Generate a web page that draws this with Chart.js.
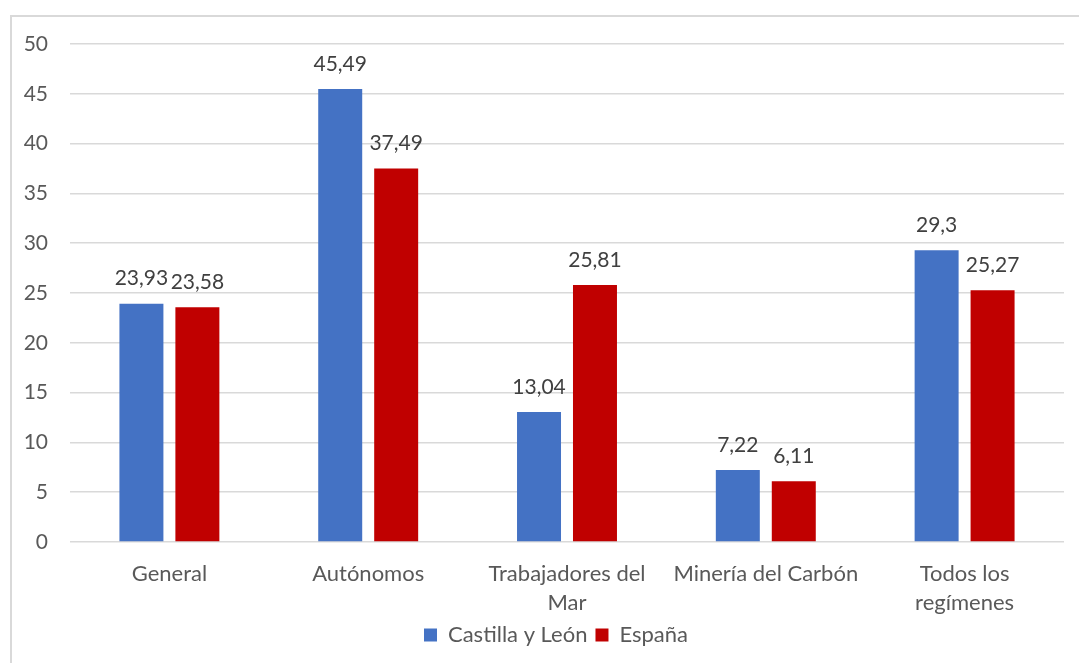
<!DOCTYPE html>
<html>
<head>
<meta charset="utf-8">
<script src="https://cdn.jsdelivr.net/npm/chart.js@4.4.0/dist/chart.umd.min.js"></script>
<style>
html,body{margin:0;padding:0;background:#fff;}
#frame{position:absolute;left:10px;top:15px;width:1100px;height:700px;border-left:2px solid #d9d9d9;border-top:2px solid #d9d9d9;box-sizing:border-box;}
#wrap{position:absolute;left:0;top:0;width:1079px;height:663px;}
</style>
</head>
<body>
<div id="frame"></div>
<div id="wrap"><canvas id="c"></canvas></div>
<script>
const categories = ["General", "Autónomos", ["Trabajadores del", "Mar"], "Minería del Carbón", ["Todos los", "regímenes"]];
const seriesNames = ["Castilla y León", "España"];
const castillaLeon = [23.93, 45.49, 13.04, 7.22, 29.3];
const espana = [23.58, 37.49, 25.81, 6.11, 25.27];
const yTicks = [0, 5, 10, 15, 20, 25, 30, 35, 40, 45, 50];

const FONT = "Lato, 'Open Sans', sans-serif";

const labelPlugin = {
  id: 'valueLabels',
  afterDatasetsDraw(chart) {
    const ctx = chart.ctx;
    ctx.save();
    ctx.font = "21px " + FONT;
    ctx.fillStyle = '#404040';
    ctx.textAlign = 'center';
    ctx.textBaseline = 'middle';
    chart.data.datasets.forEach((ds, i) => {
      const meta = chart.getDatasetMeta(i);
      meta.data.forEach((bar, j) => {
        const txt = String(ds.data[j]).replace('.', ',');
        ctx.fillText(txt, bar.x, bar.y - 25);
      });
    });
    ctx.restore();
  }
};

const legendShift = {
  id: 'legendShift',
  afterLayout(chart) {
    if (chart.legend) { chart.legend.left += 18; chart.legend.right += 18; }
  }
};

new Chart(document.getElementById('c'), {
  type: 'bar',
  data: {
    labels: categories,
    datasets: [
      { label: seriesNames[0], data: castillaLeon, backgroundColor: '#4472C4', barPercentage: 0.786, categoryPercentage: 0.563 },
      { label: seriesNames[1], data: espana, backgroundColor: '#C00000', barPercentage: 0.786, categoryPercentage: 0.563 }
    ]
  },
  options: {
    responsive: true,
    maintainAspectRatio: false,
    animation: false,
    layout: { padding: { left: 12, right: 15, top: 44, bottom: 7 } },
    plugins: {
      legend: {
        position: 'bottom',
        labels: {
          font: { family: FONT, size: 22 },
          color: '#595959',
          boxWidth: 13, boxHeight: 13,
          padding: 8
        }
      },
      tooltip: { enabled: false }
    },
    scales: {
      x: {
        afterFit(scale) { scale.height = 74; },
        grid: { display: false, drawTicks: false },
        border: { display: false },
        ticks: { font: { family: FONT, size: 22, lineHeight: 1.32 }, color: '#595959', padding: 17, maxRotation: 0, autoSkip: false }
      },
      y: {
        min: 0, max: 50,
        afterBuildTicks(scale) { scale.ticks = yTicks.map(v => ({ value: v })); },
        afterFit(scale) { scale.width = 58; },
        grid: { color: '#d9d9d9', lineWidth: 1.5, drawTicks: false },
        border: { display: false },
        ticks: { font: { family: FONT, size: 21 }, color: '#595959', padding: 22 }
      }
    }
  },
  plugins: [labelPlugin, legendShift]
});
</script>
</body>
</html>
